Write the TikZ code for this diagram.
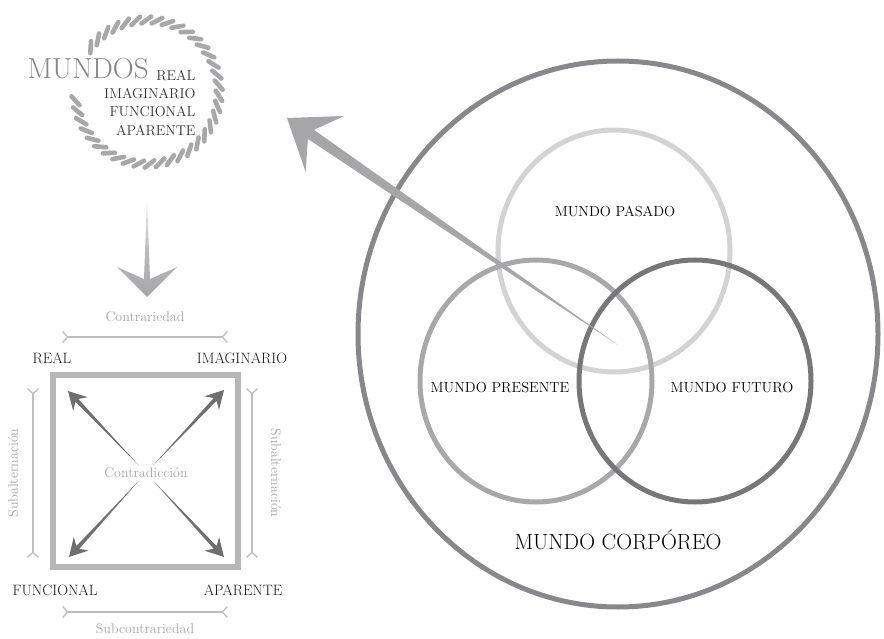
\documentclass[tikz,border=0pt]{standalone}
\usepackage{xcolor}
\usetikzlibrary{arrows.meta, calc, positioning}

\definecolor{outergray}{HTML}{88888C}
\definecolor{pastgray}{HTML}{D3D3D4}
\definecolor{presgray}{HTML}{A8A8AB}
\definecolor{futgray}{HTML}{77777A}
\definecolor{arrowgray}{HTML}{A6A6A9}
\definecolor{squaregray}{HTML}{B7B7B9}
\definecolor{diaggray}{HTML}{6F6F71}
\definecolor{notegray}{HTML}{A6A6A6}
\definecolor{ropegray}{HTML}{A8A8AA}

\begin{document}
\begin{tikzpicture}[x=1pt,y=-1pt]
              \tikzset{
                world/.style={font=\fontsize{14.5}{16}\selectfont, anchor=base},
                corner/.style={font=\fontsize{15}{16}\selectfont, anchor=base, text=black!90},
                note/.style={font=\fontsize{14}{16}\selectfont, text=notegray},
                bracket/.style={line width=1.3, draw=squaregray!90,
                  {Straight Barb[reversed,length=5pt,width=11pt]}-{Straight Barb[reversed,length=5pt,width=11pt]}},
                rope/.style={draw=ropegray, line width=4.6, line cap=round},
                timecircle/.style={line width=5, x radius=116, y radius=121}
              }
              \useasboundingbox (0,0) rectangle (884,639);
              \def\rr{72}

              % mundo corporeo
              \coordinate (O) at (618,334);
              \coordinate (P) at (614,251);
              \coordinate (Pr) at (536,381);
              \coordinate (F) at (695,381);
              \draw[outergray,line width=5] (O) ellipse [x radius=260, y radius=273];
              \draw[pastgray,timecircle] (P) ellipse [];
              \draw[presgray,timecircle] (Pr) ellipse [];
              \draw[futgray,timecircle] (F) ellipse [];
              \node[world] (pasado) at (615,217) {MUNDO PASADO};
              \node[world] (presente) at (500,392) {MUNDO PRESENTE};
              \node[world] (futuro) at (732,392) {MUNDO FUTURO};
              \node[world,font=\fontsize{22}{24}\selectfont] (corporeo) at (618,549) {MUNDO CORPÓREO};

              % big arrow
              \coordinate (T) at (287,118);
              \coordinate (E) at (618,345);
              \coordinate (N) at ($(T)!29pt!(E)$);
              \coordinate (B) at ($(T)!46pt!(E)$);
              \fill[arrowgray] (T) -- ($(B)!34pt!90:(E)$) -- ($(N)!5.5pt!90:(E)$) -- (E)
                -- ($(N)!5.5pt!-90:(E)$) -- ($(B)!34pt!-90:(E)$) -- cycle;

              % mundos
              \coordinate (R) at (147,92);
              \foreach \a in {187,195.5,...,506}
                \draw[rope] ($(R)+(-\a:\rr)+(-\a-125:6)$) -- ++(-\a+55:12);
              \node[anchor=base west,font=\fontsize{29}{30}\selectfont,text=black!48] (mundos) at (24,79) {MUNDOS};
              \node[anchor=base east,font=\fontsize{14.3}{16}\selectfont,text=black!80] (m1) at (199,81) {REAL};
              \node[anchor=base east,font=\fontsize{14.3}{16}\selectfont,text=black!80] (m2) at (199,99) {IMAGINARIO};
              \node[anchor=base east,font=\fontsize{14.3}{16}\selectfont,text=black!80] (m3) at (199,117) {FUNCIONAL};
              \node[anchor=base east,font=\fontsize{14.3}{16}\selectfont,text=black!80] (m4) at (199,136) {APARENTE};

              % down arrow
              \coordinate (D) at (147,198);
              \coordinate (Dt) at (147,297);
              \shade[top color=arrowgray!15, bottom color=arrowgray, middle color=arrowgray!75]
                (D) -- (150,279) -- (177,267) -- (Dt) -- (117,267) -- (144,279) -- cycle;

              % square
              \draw[squaregray,line width=5.5] (53,375) rectangle (238,567);
              \node[corner] (real) at (52,363) {REAL};
              \node[corner] (imag) at (242,363) {IMAGINARIO};
              \node[corner] (func) at (55,595) {FUNCIONAL};
              \node[corner] (apar) at (243,595) {APARENTE};
              \coordinate (C) at (146,473);
              \coordinate (k1) at (68,391);
              \coordinate (k2) at (224,390);
              \coordinate (k3) at (69,557);
              \coordinate (k4) at (224,557);
              \foreach \k in {k1,k2,k3,k4}
                \fill[diaggray] ($(C)!10pt!(\k)$)
                  -- ($($(\k)!13pt!(C)$)!2pt!90:(\k)$) -- ($($(\k)!18pt!(C)$)!10pt!90:(\k)$)
                  -- (\k) -- ($($(\k)!18pt!(C)$)!10pt!-90:(\k)$)
                  -- ($($(\k)!13pt!(C)$)!2pt!-90:(\k)$) -- cycle;
              \node[note,fill=white,inner sep=1pt] (contra) at (C) {Contradicción};

              % relations
              \coordinate (a1) at (62,337);
              \coordinate (a2) at (228,337);
              \coordinate (b1) at (62,612);
              \coordinate (b2) at (228,612);
              \coordinate (c1) at (33,388);
              \coordinate (c2) at (33,558);
              \coordinate (d1) at (252,388);
              \coordinate (d2) at (252,558);
              \draw[bracket] (a1) -- (a2);
              \draw[bracket] (b1) -- (b2);
              \draw[bracket] (c1) -- (c2);
              \draw[bracket] (d1) -- (d2);
              \node[note] (contrariedad) at (145,317) {Contrariedad};
              \node[note] (subcontrariedad) at (145,629) {Subcontrariedad};
              \node[note,rotate=90] (sub1) at (13,473) {Subalternación};
              \node[note,rotate=-90] (sub2) at (276,473) {Subalternación};
            \end{tikzpicture}
\end{document}
